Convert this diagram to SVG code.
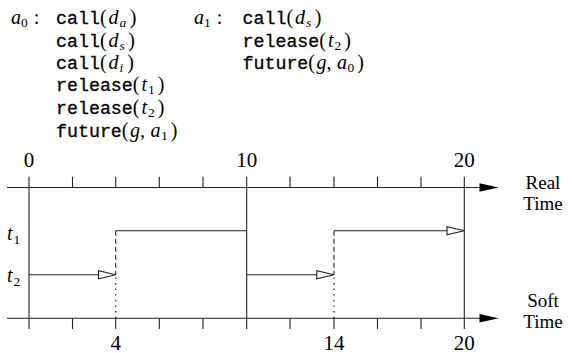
<svg xmlns="http://www.w3.org/2000/svg" width="572" height="353" viewBox="0 0 572 353">
<style>
text{fill:#000}
.m{font-family:"Liberation Mono","DejaVu Sans Mono",monospace;font-size:18.3px;stroke:#000;stroke-width:0.3}
.r{font-family:"Liberation Serif","DejaVu Serif",serif;font-size:20px}
.i{font-family:"Liberation Serif","DejaVu Serif",serif;font-size:20px;font-style:italic}
.s{font-family:"Liberation Serif","DejaVu Serif",serif;font-size:13.5px}
.si{font-family:"Liberation Serif","DejaVu Serif",serif;font-size:13.5px;font-style:italic}
.n{font-family:"Liberation Serif","DejaVu Serif",serif;font-size:21px;text-anchor:middle}
.w{font-family:"Liberation Serif","DejaVu Serif",serif;font-size:19px;text-anchor:middle}
.ln{stroke:#222;stroke-width:1.1;fill:none}
.dash{stroke:#222;stroke-width:1.1;fill:none;stroke-dasharray:5,3}
.dot{stroke:#222;stroke-width:1.3;fill:none;stroke-dasharray:1.3,4.3}
.open{fill:#fff;stroke:#222;stroke-width:1.1}
.fill{fill:#000;stroke:none}
</style>
<g id="code-a0">
<text x="11" y="24"><tspan class="i">a</tspan><tspan class="s" dy="3">0</tspan><tspan class="r" dy="-3" dx="6">:</tspan></text>
<text y="24"><tspan class="m" x="56">call</tspan><tspan class="r">(</tspan><tspan class="i" dx="2">d</tspan><tspan class="si" dy="3" dx="1">a</tspan><tspan class="r" dy="-3" dx="3.5">)</tspan></text>
<text y="46.5"><tspan class="m" x="56">call</tspan><tspan class="r">(</tspan><tspan class="i" dx="2">d</tspan><tspan class="si" dy="3" dx="1">s</tspan><tspan class="r" dy="-3" dx="3.5">)</tspan></text>
<text y="69"><tspan class="m" x="56">call</tspan><tspan class="r">(</tspan><tspan class="i" dx="2">d</tspan><tspan class="si" dy="3" dx="1">i</tspan><tspan class="r" dy="-3" dx="4">)</tspan></text>
<text y="91.3"><tspan class="m" x="56">release</tspan><tspan class="r">(</tspan><tspan class="i" dx="2">t</tspan><tspan class="s" dy="3" dx="1">1</tspan><tspan class="r" dy="-3" dx="3">)</tspan></text>
<text y="113.6"><tspan class="m" x="56">release</tspan><tspan class="r">(</tspan><tspan class="i" dx="2">t</tspan><tspan class="s" dy="3" dx="1">2</tspan><tspan class="r" dy="-3" dx="3">)</tspan></text>
<text y="136.5"><tspan class="m" x="56">future</tspan><tspan class="r">(</tspan><tspan class="i" dx="1.5">g</tspan><tspan class="r">, </tspan><tspan class="i" dx="0.5">a</tspan><tspan class="s" dy="3" dx="0.5">1</tspan><tspan class="r" dy="-3" dx="3">)</tspan></text>
</g>
<g id="code-a1">
<text x="194" y="24"><tspan class="i">a</tspan><tspan class="s" dy="3">1</tspan><tspan class="r" dy="-3" dx="6">:</tspan></text>
<text y="24"><tspan class="m" x="242.5">call</tspan><tspan class="r">(</tspan><tspan class="i" dx="2">d</tspan><tspan class="si" dy="3" dx="1">s</tspan><tspan class="r" dy="-3" dx="3.5">)</tspan></text>
<text y="46.5"><tspan class="m" x="242.5">release</tspan><tspan class="r">(</tspan><tspan class="i" dx="2">t</tspan><tspan class="s" dy="3" dx="1">2</tspan><tspan class="r" dy="-3" dx="3">)</tspan></text>
<text y="69.2"><tspan class="m" x="242.5">future</tspan><tspan class="r">(</tspan><tspan class="i" dx="1.5">g</tspan><tspan class="r">, </tspan><tspan class="i" dx="0.5">a</tspan><tspan class="s" dy="3" dx="0.5">0</tspan><tspan class="r" dy="-3" dx="3">)</tspan></text>
</g>
<g id="real-axis">
<line class="ln" x1="7" y1="187.5" x2="484" y2="187.5"/>
<polygon class="fill" points="498.5,187.5 479.5,183.3 479.5,191.7"/>
<path class="ln" d="M72.5 176.7V187.5M115.7 176.7V187.5M159.3 176.7V187.5M203 176.7V187.5M290 176.7V187.5M334 176.7V187.5M377.5 176.7V187.5M421 176.7V187.5"/>
<text class="n" x="29" y="166.5">0</text>
<text class="n" x="246.7" y="166.5">10</text>
<text class="n" x="464.3" y="166.5">20</text>
<text class="w" x="543" y="189">Real</text>
<text class="w" x="543" y="210">Time</text>
</g>
<g id="soft-axis">
<line class="ln" x1="7" y1="318.3" x2="484" y2="318.3"/>
<polygon class="fill" points="498.5,318.3 479.5,314.1 479.5,322.5"/>
<path class="ln" d="M72.5 318.3V329M115.7 318.3V329M159.3 318.3V329M203 318.3V329M290 318.3V329M334 318.3V329M377.5 318.3V329M421 318.3V329"/>
<text class="n" x="115.7" y="349.5">4</text>
<text class="n" x="334" y="349.5">14</text>
<text class="n" x="464.3" y="349.5">20</text>
<text class="w" x="543" y="307">Soft</text>
<text class="w" x="543" y="328">Time</text>
</g>
<g id="verticals">
<line class="ln" x1="29" y1="176.7" x2="29" y2="329"/>
<line class="ln" x1="246.7" y1="176.7" x2="246.7" y2="329"/>
<line class="ln" x1="464.3" y1="176.7" x2="464.3" y2="329"/>
<line class="dash" x1="115.7" y1="230.7" x2="115.7" y2="274.7"/>
<line class="dot" x1="115.7" y1="277.5" x2="115.7" y2="318"/>
<line class="dash" x1="334" y1="230.7" x2="334" y2="274.7"/>
<line class="dot" x1="334" y1="277.5" x2="334" y2="318"/>
</g>
<g id="lane-labels">
<text x="7" y="240"><tspan class="i">t</tspan><tspan class="s" dy="3.5" dx="1">1</tspan></text>
<text x="7" y="282"><tspan class="i">t</tspan><tspan class="s" dy="3.5" dx="1">2</tspan></text>
</g>
<g id="connectors">
<line class="ln" x1="29" y1="274.7" x2="98.5" y2="274.7"/>
<polygon class="open" points="115.7,274.7 98.5,270.7 98.5,278.7"/>
<line class="ln" x1="115.7" y1="230.7" x2="246.7" y2="230.7"/>
<line class="ln" x1="246.7" y1="274.7" x2="316.8" y2="274.7"/>
<polygon class="open" points="334,274.7 316.8,270.7 316.8,278.7"/>
<line class="ln" x1="334" y1="230.7" x2="447" y2="230.7"/>
<polygon class="open" points="464.3,230.7 447,226.7 447,234.7"/>
</g>
</svg>
